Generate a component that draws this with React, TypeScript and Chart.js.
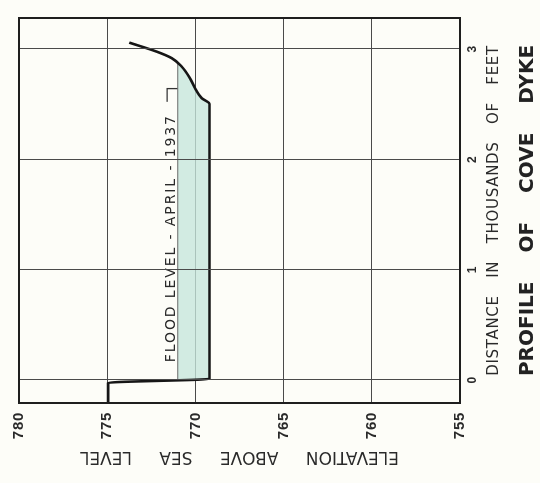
import React, { useEffect, useRef } from 'react';
import { Chart, registerables } from 'chart.js';

Chart.register(...registerables);

// ---- data (distance in thousands of feet, elevation in feet) ----
const distanceTicks = [0, 1, 2, 3];
const elevationTicks = [755, 760, 765, 770, 775, 780];
const profileDistance = [-0.21, -0.027, 0.009, 2.5, 2.553, 2.629, 2.735, 2.84, 2.916, 2.975, 3.057];
const profileElevation = [774.95, 774.95, 769.2, 769.2, 769.64, 769.97, 770.31, 770.78, 771.34, 772.19, 773.75];
const floodLevel = 771;
const floodDistance = [0, 2.5, 2.553, 2.629, 2.735, 2.84, 2.87];
const floodBed = [769.2, 769.2, 769.64, 769.97, 770.31, 770.78, 771.0];
const floodLineDistance = [0, 2.87];
const bracketDistance = [2.64, 2.64, 2.52];
const bracketElevation = [771.0, 771.6, 771.6];
const floodLabel = 'FLOOD LEVEL - APRIL - 1937';
const floodLabelStart = 0.16;
const chartTitle = 'PROFILE OF COVE DYKE';
const xTitle = 'DISTANCE IN THOUSANDS OF FEET';
const yTitle = 'ELEVATION ABOVE SEA LEVEL';

const W = 483; // canvas width before rotation
const H = 540; // canvas height before rotation
const INK = '#2a2a2a';

const pts = (xs: number[], ys: number[]) => xs.map((x, i) => ({ x, y: ys[i] }));

const decor = {
  id: 'decor',
  beforeDraw(chart: any) {
    // chart title + elevation title (drawn before the datasets)
    const ctx = chart.ctx as any;
    ctx.letterSpacing = '0px';
    ctx.wordSpacing = '22px';
  },
  afterDatasetsDraw(chart: any) {
    const ctx = chart.ctx as any;
    const xs = chart.scales.x;
    const ys = chart.scales.y;
    ctx.save();
    ctx.letterSpacing = '1.9px';
    ctx.wordSpacing = '0px';
    ctx.font = '14px "DejaVu Sans"';
    ctx.fillStyle = INK;
    ctx.textBaseline = 'alphabetic';
    ctx.textAlign = 'left';
    ctx.fillText(floodLabel, xs.getPixelForValue(floodLabelStart), ys.getPixelForValue(floodLevel) - 2.5);
    ctx.restore();
    // distance title + tick labels (drawn after the datasets)
    ctx.letterSpacing = '0.7px';
    ctx.wordSpacing = '12px';
  },
  afterDraw(chart: any) {
    const ctx = chart.ctx as any;
    const a = chart.chartArea;
    ctx.save();
    ctx.strokeStyle = '#1e1e1e';
    ctx.lineWidth = 2;
    ctx.strokeRect(a.left, a.top, a.right - a.left, a.bottom - a.top);
    ctx.restore();
    ctx.letterSpacing = '0px';
    ctx.wordSpacing = '0px';
  },
};

export default function App() {
  const ref = useRef<HTMLCanvasElement>(null);

  useEffect(() => {
    if (!ref.current) return;
    const chart = new Chart(ref.current, {
      type: 'line',
      data: {
        datasets: [
          {
            label: 'flood',
            data: pts(floodDistance, floodBed),
            borderWidth: 0,
            pointRadius: 0,
            backgroundColor: 'rgba(197,229,219,0.78)',
            fill: { value: floodLevel },
            cubicInterpolationMode: 'monotone',
            order: 3,
          },
          {
            label: 'flood line',
            data: pts(floodLineDistance, [floodLevel, floodLevel]),
            borderWidth: 1,
            borderColor: '#6a6a6a',
            pointRadius: 0,
            fill: false,
            order: 2,
          },
          {
            label: 'bracket',
            data: pts(bracketDistance, bracketElevation),
            borderWidth: 1.3,
            borderColor: '#333',
            pointRadius: 0,
            fill: false,
            order: 2,
          },
          {
            label: 'profile',
            data: pts(profileDistance, profileElevation),
            borderWidth: 2.6,
            borderColor: '#161616',
            pointRadius: 0,
            fill: false,
            cubicInterpolationMode: 'monotone',
            order: 1,
          },
        ],
      },
      options: {
        animation: false,
        responsive: false,
        layout: { padding: { top: 19, right: 18, bottom: 0, left: 0 } },
        plugins: {
          legend: { display: false },
          tooltip: { enabled: false },
          title: {
            display: true,
            text: chartTitle,
            position: 'bottom',
            fullSize: false,
            color: '#222',
            font: { family: '"DejaVu Sans"', size: 20, weight: 'bold', lineHeight: 1.2 },
            padding: { top: 9, bottom: 0 },
          },
        },
        scales: {
          x: {
            type: 'linear',
            min: -0.21,
            max: 3.28,
            afterBuildTicks: (s: any) => { s.ticks = distanceTicks.map((v) => ({ value: v })); },
            afterFit: (s: any) => { s.height = 47; },
            grid: { color: '#4a4a4a', lineWidth: 1, drawTicks: false, z: 1 },
            border: { display: false },
            ticks: {
              z: 1,
              padding: 5,
              color: INK,
              font: { family: '"Liberation Sans"', size: 12, weight: 'bold', lineHeight: 1.2 },
            },
            title: {
              display: true,
              text: xTitle,
              color: INK,
              font: { family: '"DejaVu Sans"', size: 15, lineHeight: 1.2 },
              padding: { top: 5.6, bottom: 4 },
            },
          },
          y: {
            type: 'linear',
            min: 755,
            max: 780,
            afterBuildTicks: (s: any) => { s.ticks = elevationTicks.map((v) => ({ value: v })); },
            afterFit: (s: any) => { s.width = 80; },
            grid: { color: '#4a4a4a', lineWidth: 1, drawTicks: false, z: -1 },
            border: { display: false },
            ticks: {
              z: 1,
              padding: 9,
              color: INK,
              font: { family: '"Liberation Sans"', size: 15, weight: 'bold', lineHeight: 1.2 },
            },
            title: {
              display: true,
              text: yTitle,
              color: INK,
              font: { family: '"DejaVu Sans"', size: 17, lineHeight: 1.2 },
              padding: { top: 16, bottom: 0 },
            },
          },
        },
      },
      plugins: [decor],
    } as any);
    return () => chart.destroy();
  }, []);

  return (
    <div
      style={{
        position: 'fixed',
        left: 0,
        top: 0,
        width: 540,
        height: 483,
        background: '#fdfdf8',
        overflow: 'hidden',
      }}
    >
      <div
        style={{
          position: 'absolute',
          left: 0,
          top: 0,
          width: W,
          height: H,
          transformOrigin: '0 0',
          transform: `translate(0px, ${W}px) rotate(-90deg)`,
        }}
      >
        <canvas ref={ref} width={W} height={H} style={{ width: W, height: H, display: 'block' }} />
      </div>
    </div>
  );
}
